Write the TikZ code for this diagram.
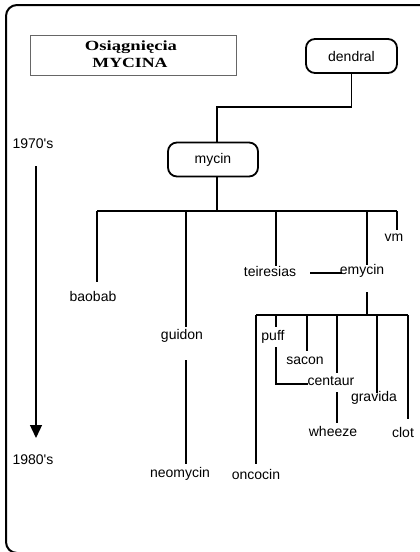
\documentclass[tikz,border=0pt]{standalone}
\usepackage{fontspec}
\setmainfont{Liberation Sans}
\newfontfamily\titlefont{Liberation Serif}
\usetikzlibrary{arrows.meta}
\begin{document}
\begin{tikzpicture}[x=1pt,y=-1pt,
  lbl/.style={inner sep=0pt,font=\fontsize{14}{16}\selectfont},
  sysbox/.style={draw,line width=1.8pt,rounded corners=9pt,minimum width=#1,minimum height=34pt,inner sep=0pt,font=\fontsize{14}{16}\selectfont},
  link/.style={line width=1.3pt},
  thick link/.style={line width=2pt}]
\useasboundingbox (0,0) rectangle (420,552);
\begin{scope}
\clip (0,0) rectangle (420,552);
\draw[line width=2pt,rounded corners=11pt] (6,5) rectangle (432,553);
\end{scope}
% title
\node[draw=black!60,line width=0.8pt,minimum width=206pt,minimum height=40pt,inner sep=0pt] (title) at (133,55) {};
\node[inner sep=0pt,font=\titlefont\bfseries\fontsize{14}{15}\selectfont] (t1) at (131,47) {\scalebox{1.33}[1]{Osiągnięcia}};
\node[inner sep=0pt,font=\titlefont\bfseries\fontsize{14}{15}\selectfont] (t2) at (130,63) {\scalebox{1.27}[1]{MYCINA}};
% timeline
\node[lbl] (y70) at (33,144) {1970\textquotesingle s};
\node[lbl] (y80) at (33,460) {1980\textquotesingle s};
\coordinate (a0) at (36,166);
\coordinate (a1) at (36,438);
\draw[link,-{Triangle[width=12pt,length=13pt]}] (a0) -- (a1);
% main nodes
\node[sysbox=91pt] (dendral) at (351.5,56) {dendral};
\node[sysbox=90pt] (mycin) at (213,159.5) {mycin};
\coordinate (d1) at (217,107);
\draw[link] (dendral.south) |- (d1) -- (d1 |- mycin.north);
% first level
\coordinate (bar) at (217,211);
\coordinate (b1) at (97,211);
\coordinate (b2) at (186,211);
\coordinate (b3) at (276,211);
\coordinate (b4) at (367,211);
\coordinate (b5) at (397,211);
\draw[link] (d1 |- mycin.south) -- (bar);
\draw[link] (b1) -- (b5);
\node[lbl] (baobab) at (93,296) {baobab};
\node[lbl] (guidon) at (182,336) {guidon};
\node[lbl] (neomycin) at (180,474) {neomycin};
\node[lbl] (teiresias) at (270,271) {teiresias};
\node[lbl] (emycin) at (362,271) {emycin};
\node[lbl] (vm) at (394,238) {vm};
\coordinate (e1) at (97,282);
\coordinate (e2) at (186,327);
\coordinate (e2b) at (186,360);
\coordinate (e2c) at (186,464);
\coordinate (e3) at (276,266);
\coordinate (e4) at (367,265);
\coordinate (e5) at (397,230);
\draw[link] (b1) -- (e1);
\draw[link] (b2) -- (e2);
\draw[link] (e2b) -- (e2c);
\draw[link] (b3) -- (e3);
\draw[link] (b4) -- (e4);
\draw[link] (b5) -- (e5);
\coordinate (te1) at (310,273);
\coordinate (te2) at (342,273);
\draw[link] (te1) -- (te2);
% emycin subtree
\coordinate (m0) at (367,292);
\coordinate (m1) at (367,315);
\coordinate (c1) at (256,315);
\coordinate (c2) at (276,315);
\coordinate (c3) at (307,315);
\coordinate (c4) at (337,315);
\coordinate (c5) at (377,315);
\coordinate (c6) at (408,315);
\draw[link] (m0) -- (m1);
\draw[thick link] (c1) -- (c6);
\node[lbl] (oncocin) at (256,474) {oncocin};
\node[lbl] (puff) at (273,337) {puff};
\node[lbl] (sacon) at (305,361) {sacon};
\node[lbl] (centaur) at (331,381) {centaur};
\node[lbl] (gravida) at (374,398) {gravida};
\node[lbl] (wheeze) at (333,431) {wheeze};
\node[lbl] (clot) at (403,432) {clot};
\draw[thick link] (c1) -- (256,464) coordinate (o1);
\draw[link] (c2) -- (276,327) coordinate (p1);
\draw[link] (276,347) coordinate (p2) -- (276,384) -- (308,384) coordinate (p3);
\draw[link] (c3) -- (307,351) coordinate (s1);
\draw[link] (c4) -- (337,373) coordinate (ce1);
\draw[link] (337,392) coordinate (ce2) -- (337,423) coordinate (w1);
\draw[thick link] (c5) -- (377,393) coordinate (g1);
\draw[link] (c6) -- (408,419) coordinate (cl1);
\end{tikzpicture}
\end{document}
